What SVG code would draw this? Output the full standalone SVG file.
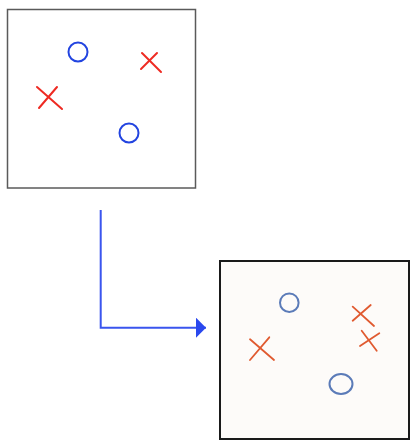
<svg xmlns="http://www.w3.org/2000/svg" width="411" height="445" viewBox="0 0 411 445">
<style>
.box1{fill:#ffffff;stroke:#5a5a5a;stroke-width:1.5}
.box2{fill:#fdfbf9;stroke:#1a1a1a;stroke-width:2}
.c1{fill:none;stroke:#2244e0;stroke-width:2}
.x1{stroke:#ee2a22;stroke-width:2;stroke-linecap:round}
.c2{fill:none;stroke:#5b7bb8;stroke-width:2}
.x2{stroke:#e05a30;stroke-width:1.8;stroke-linecap:round}
.conn{fill:none;stroke:#3a55ee;stroke-width:2}
</style>
<defs>
<marker id="ah" markerWidth="10" markerHeight="20" refX="10" refY="10" orient="auto" markerUnits="userSpaceOnUse">
<path d="M0,0 L10,10 L0,20 Z" fill="#2a48ee"/>
</marker>
</defs>
<rect width="411" height="445" fill="#ffffff"/>
<g id="before">
<rect class="box1" x="7.5" y="9.5" width="188" height="178.5"/>
<circle class="c1" cx="78" cy="52" r="9.5"/>
<circle class="c1" cx="129" cy="133" r="9.5"/>
<line class="x1" x1="37" y1="87" x2="62" y2="109"/>
<line class="x1" x1="39" y1="108" x2="57" y2="87"/>
<line class="x1" x1="142" y1="53" x2="161" y2="72"/>
<line class="x1" x1="141" y1="69" x2="157" y2="53"/>
</g>
<g id="after">
<rect class="box2" x="220" y="261" width="189" height="178"/>
<circle class="c2" cx="289.3" cy="302.7" r="9.3"/>
<ellipse class="c2" cx="341" cy="384" rx="11.5" ry="10"/>
<line class="x2" x1="250" y1="339.3" x2="274" y2="360"/>
<line class="x2" x1="250" y1="360" x2="269.3" y2="337.3"/>
<line class="x2" x1="352.7" y1="306.7" x2="374" y2="326"/>
<line class="x2" x1="352.7" y1="320.7" x2="370.7" y2="305"/>
<line class="x2" x1="361.7" y1="330.7" x2="376.7" y2="350.7"/>
<line class="x2" x1="360" y1="346" x2="379.3" y2="333.3"/>
</g>
<g id="connectors">
<path class="conn" d="M100.7,210 L100.7,327.7 L206,327.7" marker-end="url(#ah)"/>
</g>
</svg>
